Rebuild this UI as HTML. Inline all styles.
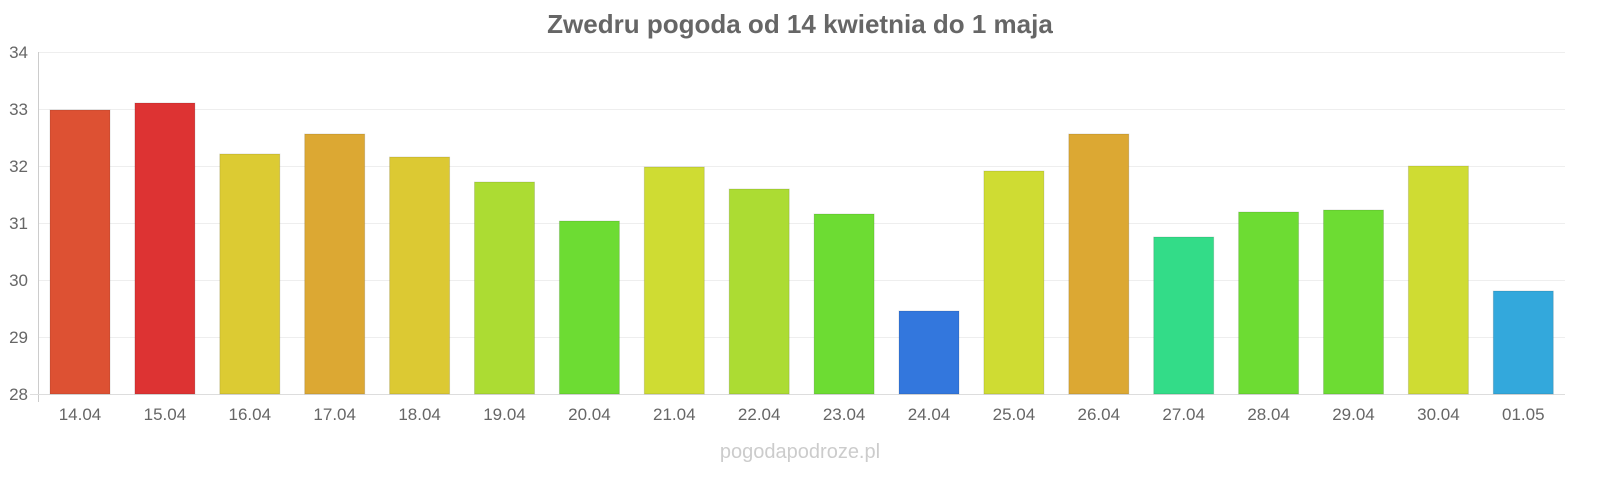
<!DOCTYPE html>
<html><head><meta charset="utf-8"><style>
body{margin:0;background:#fff;width:1600px;height:480px;overflow:hidden;font-family:"Liberation Sans",sans-serif}
</style></head><body>
<svg width="1600" height="480" xmlns="http://www.w3.org/2000/svg" font-family="Liberation Sans, sans-serif">
<text x="800" y="33" text-anchor="middle" font-size="26" font-weight="bold" fill="#666">Zwedru pogoda od 14 kwietnia do 1 maja</text>
<g stroke="#eee" stroke-width="1">
<line x1="38" x2="1565" y1="52.5" y2="52.5"/><line x1="38" x2="1565" y1="109.5" y2="109.5"/>
<line x1="38" x2="1565" y1="166.5" y2="166.5"/><line x1="38" x2="1565" y1="223.5" y2="223.5"/>
<line x1="38" x2="1565" y1="280.5" y2="280.5"/><line x1="38" x2="1565" y1="337.5" y2="337.5"/>
</g>
<line x1="38.5" x2="38.5" y1="52" y2="402" stroke="#ccc"/>
<line x1="30" x2="1565" y1="394.5" y2="394.5" stroke="#ddd"/>
<g font-size="17" fill="#666" text-anchor="end">
<text x="28" y="58">34</text><text x="28" y="115">33</text><text x="28" y="172">32</text>
<text x="28" y="229">31</text><text x="28" y="286">30</text><text x="28" y="343">29</text><text x="28" y="400">28</text>
</g>
<g id="bars"></g>
<g id="labels" font-size="17" fill="#666" text-anchor="middle"></g>
<text x="800" y="458" text-anchor="middle" font-size="20" fill="#ccc">pogodapodroze.pl</text>
</svg>
<script>
var d=[["14.04",110,"#dd5133"],["15.04",103,"#dd3333"],["16.04",154,"#dccb33"],["17.04",134,"#dca833"],["18.04",157,"#dcc933"],["19.04",182,"#acdc33"],["20.04",221,"#6ddc33"],["21.04",167,"#cfdc33"],["22.04",189,"#acdc33"],["23.04",214,"#6ddc33"],["24.04",311,"#3377dd"],["25.04",171,"#cfdc33"],["26.04",134,"#dca833"],["27.04",237,"#33dc88"],["28.04",212,"#6ddc33"],["29.04",210,"#6ddc33"],["30.04",166,"#cfdc33"],["01.05",291,"#33a8dc"]];
var b="",l="";
d.forEach(function(e,i){var c=80+i*84.9;b+='<rect x="'+(c-30)+'" y="'+e[1]+'" width="60" height="'+(394-e[1])+'" fill="'+e[2]+'" stroke="rgba(0,0,0,0.12)"/>';l+='<text x="'+c+'" y="420">'+e[0]+'</text>';});
document.getElementById("bars").innerHTML=b;document.getElementById("labels").innerHTML=l;
</script>
</body></html>
